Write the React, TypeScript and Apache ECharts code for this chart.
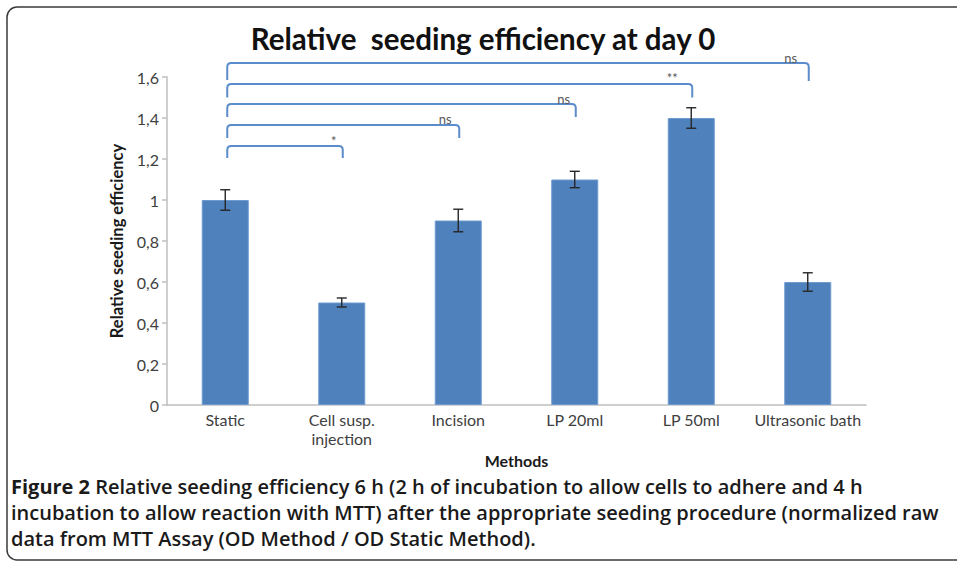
import React, { useEffect, useRef } from "react";
import * as echarts from "echarts";

const categories = ["Static", "Cell susp.\ninjection", "Incision", "LP 20ml", "LP 50ml", "Ultrasonic bath"];
const values = [1.0, 0.5, 0.9, 1.1, 1.4, 0.6];
const errors = [0.05, 0.022, 0.055, 0.04, 0.05, 0.045];
// significance brackets
const bracketFrom = [0, 0, 0, 0, 0];
const bracketTo = [1, 2, 3, 4, 5];
const bracketTop = [1.263, 1.366, 1.468, 1.566, 1.668];
const bracketLeftBottom = [1.205, 1.302, 1.405, 1.5, 1.585];
const bracketRightBottom = [1.205, 1.302, 1.405, 1.5, 1.58];
const bracketLabels = ["*", "ns", "ns", "**", "ns"];
const yTicks = { min: 0, max: 1.6, interval: 0.2 };

const titleText = "Relative  seeding efficiency at day 0";
const captionBold = "Figure 2";
const captionLines = [
  " Relative seeding efficiency 6 h (2 h of incubation to allow cells to adhere and 4 h",
  "incubation to allow reaction with MTT) after the appropriate seeding procedure (normalized raw",
  "data from MTT Assay (OD Method / OD Static Method).",
];

const FONT = "Lato, 'Open Sans', sans-serif";
const CAP_FONT = "'Open Sans', sans-serif";
const labelOffsets = [-9, -14, -12, -20, -18];

export default function App() {
  const ref = useRef<HTMLDivElement>(null);
  useEffect(() => {
    if (!ref.current) return;
    const chart = echarts.init(ref.current, null, { renderer: "svg" });
    const errData = values.map((v, i) => [i, v - errors[i], v + errors[i]]);
    const brData = bracketFrom.map((f, i) => [
      f,
      bracketTo[i],
      bracketTop[i],
      bracketLeftBottom[i],
      bracketRightBottom[i],
    ]);
    const capStyle = { fontFamily: CAP_FONT, fontSize: 20, lineHeight: 26, fill: "#1a1a1a" };
    chart.setOption({
      animation: false,
      backgroundColor: "#ffffff",
      grid: { left: 167, right: 91, top: 77, bottom: 157, containLabel: false },
      xAxis: {
        type: "category",
        data: categories,
        name: "Methods",
        nameLocation: "middle",
        nameGap: 31,
        nameTextStyle: { fontFamily: FONT, fontWeight: "bold", fontSize: 16, color: "#1a1a1a" },
        axisLine: { lineStyle: { color: "#bfbfbf", width: 1.5 } },
        axisTick: { show: false },
        axisLabel: {
          fontFamily: FONT,
          fontSize: 16,
          color: "#404040",
          margin: 5,
          lineHeight: 19,
          interval: 0,
        },
      },
      yAxis: {
        type: "value",
        min: yTicks.min,
        max: yTicks.max,
        interval: yTicks.interval,
        name: "Relative seeding efficiency",
        nameLocation: "middle",
        nameRotate: 90,
        nameGap: 41,
        nameTextStyle: { fontFamily: FONT, fontWeight: "bold", fontSize: 16.5, color: "#1a1a1a" },
        axisLine: { show: true, lineStyle: { color: "#bfbfbf", width: 1.5 } },
        axisTick: { show: true, length: 5, lineStyle: { color: "#bfbfbf", width: 1.5 } },
        splitLine: { show: false },
        axisLabel: {
          fontFamily: FONT,
          fontSize: 16,
          color: "#404040",
          margin: 8,
          formatter: (v: number) => (v === 0 ? "0" : String(+v.toFixed(1)).replace(".", ",")),
        },
      },
      series: [
        {
          type: "bar",
          data: values,
          barWidth: 47,
          itemStyle: { color: "#4f81bd", borderColor: "#6f9ad0", borderWidth: 1 },
          z: 2,
        },
        {
          type: "custom",
          data: errData,
          z: 3,
          renderItem: (params: any, api: any) => {
            const x = api.value(0);
            const lo = api.coord([x, api.value(1)]);
            const hi = api.coord([x, api.value(2)]);
            const cap = 5;
            const style = { stroke: "#262626", lineWidth: 1.4 };
            return {
              type: "group",
              children: [
                { type: "line", shape: { x1: lo[0], y1: lo[1], x2: hi[0], y2: hi[1] }, style },
                { type: "line", shape: { x1: lo[0] - cap, y1: lo[1], x2: lo[0] + cap, y2: lo[1] }, style },
                { type: "line", shape: { x1: hi[0] - cap, y1: hi[1], x2: hi[0] + cap, y2: hi[1] }, style },
              ],
            };
          },
        },
        {
          type: "custom",
          data: brData,
          clip: false,
          z: 4,
          renderItem: (params: any, api: any) => {
            const i = params.dataIndex;
            const p1 = api.coord([api.value(0), api.value(2)]);
            const p2 = api.coord([api.value(1), api.value(2)]);
            const lb = api.coord([api.value(0), api.value(3)]);
            const rb = api.coord([api.value(1), api.value(4)]);
            const x1 = p1[0] + 2;
            const x2 = p2[0] + 1;
            const y = p1[1];
            const r = 4;
            const d = `M ${x1} ${lb[1]} L ${x1} ${y + r} Q ${x1} ${y} ${x1 + r} ${y} L ${x2 - r} ${y} Q ${x2} ${y} ${x2} ${y + r} L ${x2} ${rb[1]}`;
            return {
              type: "group",
              children: [
                {
                  type: "path",
                  shape: { pathData: d },
                  style: { stroke: "#5b8ccc", lineWidth: 2, fill: "none" },
                },
                {
                  type: "text",
                  x: x2 + labelOffsets[i],
                  y: y + 1,
                  z2: 10,
                  style: {
                    text: bracketLabels[i],
                    fontFamily: FONT,
                    fontSize: 13,
                    fill: "#595959",
                    align: "center",
                    verticalAlign: "bottom",
                  },
                },
              ],
            };
          },
        },
      ],
      graphic: [
        {
          type: "rect",
          shape: { x: 7, y: 7, width: 990, height: 553, r: 10 },
          style: { fill: "none", stroke: "#3a3a3a", lineWidth: 1.5 },
          silent: true,
        },
        {
          type: "text",
          x: 483,
          y: 38,
          style: {
            text: titleText,
            fontFamily: FONT,
            fontWeight: "bold",
            fontSize: 29.5,
            fill: "#111111",
            align: "center",
            verticalAlign: "middle",
          },
        },
        {
          type: "text",
          x: 11,
          y: 473,
          style: {
            text:
              `{b|${captionBold}}{n|${captionLines[0]}}\n` +
              `{n|${captionLines[1]}}\n` +
              `{n|${captionLines[2]}}`,
            verticalAlign: "top",
            rich: {
              b: { ...capStyle, fontWeight: "bold" },
              n: { ...capStyle, fontWeight: 600 },
            },
          },
        },
      ],
    });
    return () => chart.dispose();
  }, []);
  return (
    <div
      ref={ref}
      style={{ position: "fixed", left: 0, top: 0, width: 957, height: 562, background: "#fff" }}
    />
  );
}
